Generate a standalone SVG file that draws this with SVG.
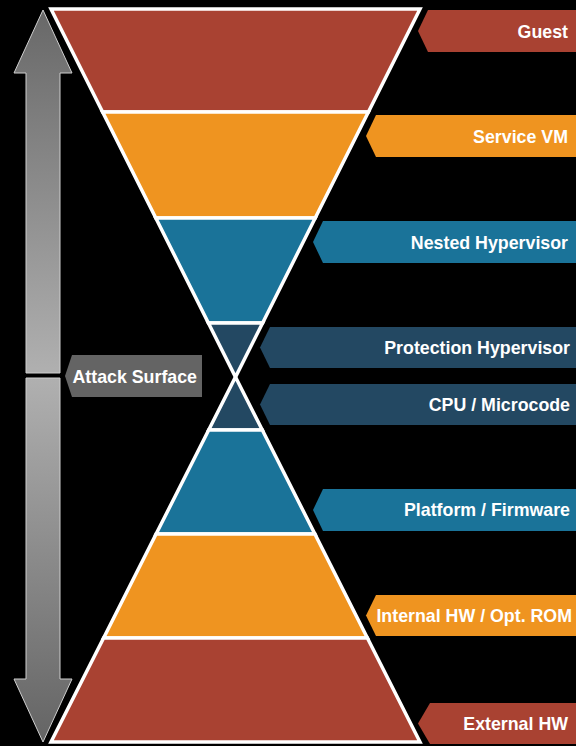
<svg xmlns="http://www.w3.org/2000/svg" width="576" height="746" viewBox="0 0 576 746">
<defs>
<linearGradient id="gUp" x1="0" y1="10" x2="0" y2="373" gradientUnits="userSpaceOnUse">
<stop offset="0" stop-color="#686868"/><stop offset="1" stop-color="#b0b0b0"/>
</linearGradient>
<linearGradient id="gDown" x1="0" y1="378" x2="0" y2="742" gradientUnits="userSpaceOnUse">
<stop offset="0" stop-color="#b0b0b0"/><stop offset="1" stop-color="#646464"/>
</linearGradient>
<style>
.layer{stroke:#ffffff;stroke-width:3.5;stroke-linejoin:miter}
.red{fill:#a94232}
.orange{fill:#ef9420}
.blue{fill:#1a7399}
.navy{fill:#234862}
.lbl{font-family:"Liberation Sans",Arial,sans-serif;font-weight:bold;font-size:17.8px;fill:#ffffff;text-anchor:end}
.arrow{stroke:#cfcfcf;stroke-width:1}
</style>
</defs>
<rect width="576" height="746" fill="#000000"/>

<g id="arrows">
<polygon class="arrow" fill="url(#gUp)" points="43,10 72,73 60,73 60,373 26,373 26,73 14,73"/>
<polygon class="arrow" fill="url(#gDown)" points="26,378 60,378 60,679 72,679 43,742 14,679 26,679"/>
</g>

<g id="hourglass">
<g id="layer-guest"><polygon class="layer red" points="51,9 420,9 368.4,112 102.6,112"/></g>
<g id="layer-servicevm"><polygon class="layer orange" points="102.6,112 368.4,112 315.2,218 155.8,218"/></g>
<g id="layer-nested"><polygon class="layer blue" points="155.8,218 315.2,218 262.6,323 208.4,323"/></g>
<g id="layer-protection"><polygon class="layer navy" points="208.4,323 262.6,323 235.5,377"/></g>
<g id="layer-cpu"><polygon class="layer navy" points="235.5,377 262.3,430 208.7,430"/></g>
<g id="layer-platform"><polygon class="layer blue" points="208.7,430 262.3,430 314.9,534 156.1,534"/></g>
<g id="layer-internal"><polygon class="layer orange" points="156.1,534 314.9,534 367.4,638 103.6,638"/></g>
<g id="layer-external"><polygon class="layer red" points="103.6,638 367.4,638 420,742 51,742"/></g>
</g>

<g id="label-guest"><polygon class="red" points="418,31 428,10 576,10 576,52 428,52"/><text class="lbl" x="568" y="37.5">Guest</text></g>
<g id="label-servicevm"><polygon class="orange" points="366,136 376,115 576,115 576,157 376,157"/><text class="lbl" x="568" y="142.5">Service VM</text></g>
<g id="label-nested"><polygon class="blue" points="313,242 323,221 576,221 576,263 323,263"/><text class="lbl" x="568" y="248.5">Nested Hypervisor</text></g>
<g id="label-protection"><polygon class="navy" points="260,347.5 270,327 576,327 576,368 270,368"/><text class="lbl" x="570" y="353.5">Protection Hypervisor</text></g>
<g id="label-cpu"><polygon class="navy" points="260,404.5 270,384 576,384 576,425 270,425"/><text class="lbl" x="570" y="410.5">CPU / Microcode</text></g>
<g id="label-platform"><polygon class="blue" points="313,510 323,489 576,489 576,531 323,531"/><text class="lbl" x="570" y="516">Platform / Firmware</text></g>
<g id="label-internal"><polygon class="orange" points="366,615.5 376,595 576,595 576,636 376,636"/><text class="lbl" x="572" y="621.5">Internal HW / Opt. ROM</text></g>
<g id="label-external"><polygon class="red" points="418,723.5 430,703 576,703 576,744 430,744"/><text class="lbl" x="568" y="729.5">External HW</text></g>

<g id="label-attack"><polygon fill="#646464" points="65,376 72,355 202,355 202,397 72,397"/><text class="lbl" x="197" y="382.5">Attack Surface</text></g>
</svg>
